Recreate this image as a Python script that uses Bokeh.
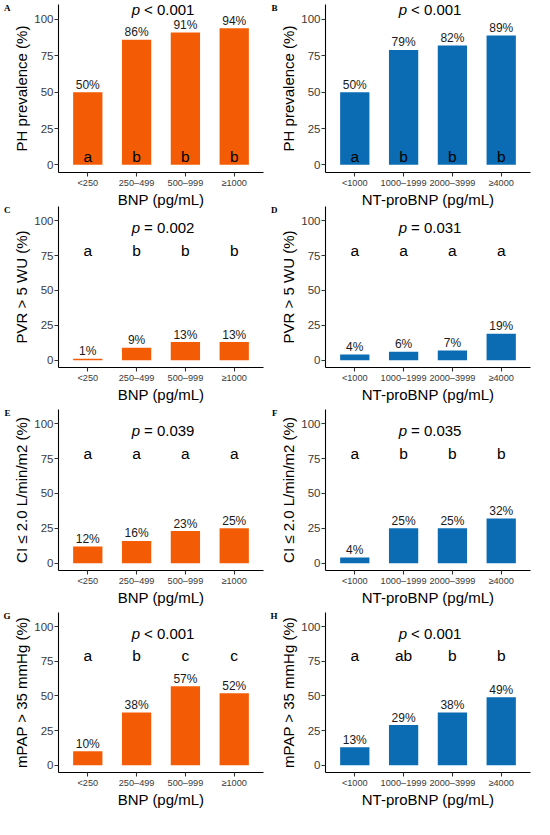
from bokeh.plotting import figure
from bokeh.models import Range1d, FixedTicker, LinearAxis, ColumnDataSource
from bokeh.layouts import gridplot
from bokeh.embed import file_html
from bokeh.resources import INLINE
from bokeh.core.properties import value

# ---- data ----
bnp_cats = ["<250", "250–499", "500–999", "≥1000"]
ntp_cats = ["<1000", "1000–1999", "2000–3999", "≥4000"]

ph_bnp = [50, 86, 91, 94]
ph_ntp = [50, 79, 82, 89]
pvr_bnp = [1, 9, 13, 13]
pvr_ntp = [4, 6, 7, 19]
ci_bnp = [12, 16, 23, 25]
ci_ntp = [4, 25, 25, 32]
mpap_bnp = [10, 38, 57, 52]
mpap_ntp = [13, 29, 38, 49]

grp_ph_bnp = ["a", "b", "b", "b"]
grp_ph_ntp = ["a", "b", "b", "b"]
grp_pvr_bnp = ["a", "b", "b", "b"]
grp_pvr_ntp = ["a", "a", "a", "a"]
grp_ci_bnp = ["a", "a", "a", "a"]
grp_ci_ntp = ["a", "b", "b", "b"]
grp_mpap_bnp = ["a", "b", "c", "c"]
grp_mpap_ntp = ["a", "ab", "b", "b"]

p_ph_bnp = "< 0.001"
p_ph_ntp = "< 0.001"
p_pvr_bnp = "= 0.002"
p_pvr_ntp = "= 0.031"
p_ci_bnp = "= 0.039"
p_ci_ntp = "= 0.035"
p_mpap_bnp = "< 0.001"
p_mpap_ntp = "< 0.001"

ylab_ph = "PH prevalence (%)"
ylab_pvr = "PVR > 5 WU (%)"
ylab_ci = "CI ≤ 2.0 L/min/m2 (%)"
ylab_mpap = "mPAP > 35 mmHg (%)"
xlab_bnp = "BNP (pg/mL)"
xlab_ntp = "NT-proBNP (pg/mL)"

y_ticks = [0, 25, 50, 75, 100]

ORANGE = "#F35C04"
BLUE = "#0B6CB3"
FONT = value("Liberation Sans")

W = 267
X0, X1 = 0.4, 4.6
Y0, Y1 = -5.25, 110.25
LETTER_Y = 108
OVERLAP = 8


def panel(letter, cats, vals, color, ylab, xlab, grp, ptxt, grp_bottom, height, overlap):
    xs = list(range(1, len(cats) + 1))
    p = figure(width=W, height=height,
               x_range=Range1d(X0, X1), y_range=Range1d(Y0, Y1),
               output_backend="svg", toolbar_location=None,
               min_border_left=0, min_border_right=4,
               min_border_top=4, min_border_bottom=0,
               margin=(-overlap, 0, 0, 0))
    p.outline_line_color = None
    p.grid.visible = False
    p.background_fill_color = None
    p.border_fill_color = None

    gy = 5.5 if grp_bottom else 79
    py = 107 if grp_bottom else 95
    src = ColumnDataSource(dict(x=xs, top=vals,
                                lab=[f"{v}%" for v in vals],
                                grp=grp, gy=[gy] * len(xs)))
    p.vbar(x="x", top="top", bottom=0, width=0.6, fill_color=color,
           line_color=None, source=src)
    p.text(x="x", y="top", text="lab", source=src, text_align="center",
           text_baseline="middle", y_offset=-7.5, text_font=FONT,
           text_font_size="12px", text_color="#1a1a1a")
    p.text(x="x", y="gy", text="grp", source=src, text_align="center",
           text_baseline="middle", text_font=FONT,
           text_font_size="15.5px", text_color="black")

    px = sum(xs) / len(xs)
    p.text(x=[px], y=[py], text=["p"], text_align="right",
           text_baseline="middle", x_offset=-21, text_font=FONT,
           text_font_style="italic", text_font_size="15px", text_color="black")
    p.text(x=[px], y=[py], text=[ptxt], text_align="left",
           text_baseline="middle", x_offset=-17, text_font=FONT,
           text_font_size="15px", text_color="black")

    for ax in (p.xaxis[0], p.yaxis[0]):
        ax.axis_line_color = "black"
        ax.axis_line_width = 1.1
        ax.major_tick_line_color = "#333333"
        ax.major_tick_line_width = 1.1
        ax.major_tick_in = 0
        ax.major_tick_out = 4
        ax.minor_tick_line_color = None
        ax.major_label_text_font = "Liberation Sans"
        ax.major_label_text_color = "#3a3a3a"
        ax.axis_label_text_font = "Liberation Sans"
        ax.axis_label_text_font_style = "normal"
        ax.axis_label_text_color = "black"
        ax.axis_label_text_font_size = "15px"

    p.xaxis.ticker = FixedTicker(ticks=xs)
    p.xaxis.major_label_overrides = {x: c for x, c in zip(xs, cats)}
    p.xaxis.major_label_text_font_size = "9.2px"
    p.xaxis.major_label_standoff = 1
    p.xaxis.axis_label = xlab
    p.xaxis.axis_label_standoff = 0

    p.yaxis.ticker = FixedTicker(ticks=y_ticks)
    p.yaxis.major_label_text_font_size = "11.5px"
    p.yaxis.major_label_standoff = 1
    p.yaxis.axis_label = ylab
    p.yaxis.axis_label_standoff = 1

    # panel letter, drawn as the single label of an outer, line-less axis
    lax = LinearAxis(ticker=FixedTicker(ticks=[LETTER_Y]),
                     major_label_overrides={LETTER_Y: letter},
                     axis_line_color=None, major_tick_line_color=None,
                     minor_tick_line_color=None,
                     major_tick_in=0, major_tick_out=0,
                     major_label_standoff=0, axis_label_standoff=0,
                     major_label_text_font="Liberation Serif",
                     major_label_text_font_style="bold",
                     major_label_text_font_size="9px",
                     major_label_text_color="black")
    p.add_layout(lax, "left")
    return p


H = [210, 211, 211, 210]
OV = [0, OVERLAP, OVERLAP, OVERLAP]
figs = [
    [panel("A", bnp_cats, ph_bnp, ORANGE, ylab_ph, xlab_bnp, grp_ph_bnp, p_ph_bnp, True, H[0], OV[0]),
     panel("B", ntp_cats, ph_ntp, BLUE, ylab_ph, xlab_ntp, grp_ph_ntp, p_ph_ntp, True, H[0], OV[0])],
    [panel("C", bnp_cats, pvr_bnp, ORANGE, ylab_pvr, xlab_bnp, grp_pvr_bnp, p_pvr_bnp, False, H[1], OV[1]),
     panel("D", ntp_cats, pvr_ntp, BLUE, ylab_pvr, xlab_ntp, grp_pvr_ntp, p_pvr_ntp, False, H[1], OV[1])],
    [panel("E", bnp_cats, ci_bnp, ORANGE, ylab_ci, xlab_bnp, grp_ci_bnp, p_ci_bnp, False, H[2], OV[2]),
     panel("F", ntp_cats, ci_ntp, BLUE, ylab_ci, xlab_ntp, grp_ci_ntp, p_ci_ntp, False, H[2], OV[2])],
    [panel("G", bnp_cats, mpap_bnp, ORANGE, ylab_mpap, xlab_bnp, grp_mpap_bnp, p_mpap_bnp, False, H[3], OV[3]),
     panel("H", ntp_cats, mpap_ntp, BLUE, ylab_mpap, xlab_ntp, grp_mpap_ntp, p_mpap_ntp, False, H[3], OV[3])],
]

grid = gridplot(figs, toolbar_location=None)
open("out.html", "w").write(file_html(grid, INLINE))
